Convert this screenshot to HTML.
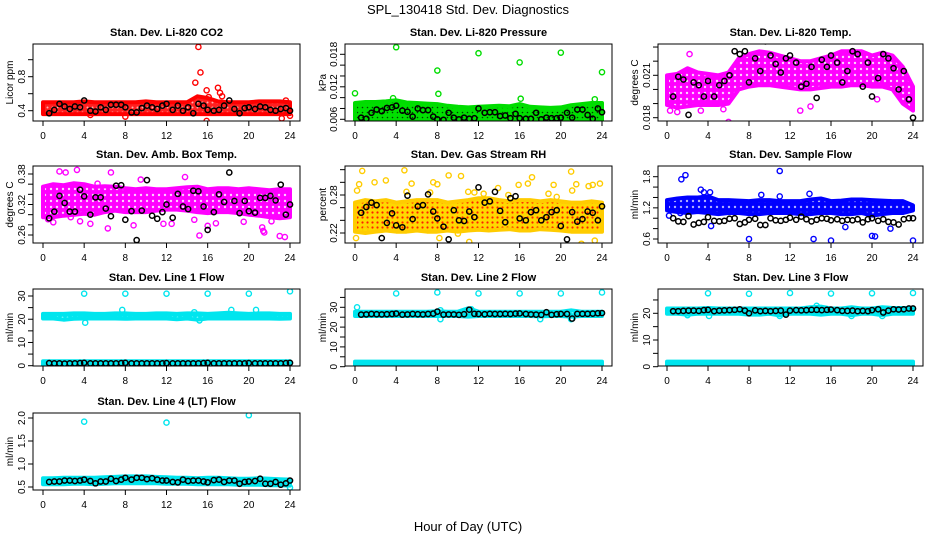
<!DOCTYPE html>
<html><head><meta charset="utf-8"><title>SPL_130418 Std. Dev. Diagnostics</title>
<style>
html,body{margin:0;padding:0;background:#fff;}
svg{display:block;font-family:"Liberation Sans",Arial,sans-serif;}
</style></head>
<body>
<svg id="chart" width="936" height="540" viewBox="0 0 936 540">
<defs>
<pattern id="pat-red" width="5" height="5" patternUnits="userSpaceOnUse"><rect width="5" height="5" fill="#ff2020"/><circle cx="2.5" cy="2.5" r="1" fill="#ffb0b0"/></pattern>
<pattern id="pat-green" width="5" height="5" patternUnits="userSpaceOnUse"><rect width="5" height="5" fill="#00e000"/><circle cx="2.5" cy="2.5" r="0.8" fill="#004000"/></pattern>
<pattern id="pat-mag" width="6" height="6" patternUnits="userSpaceOnUse"><rect width="6" height="6" fill="#ff00ff"/><circle cx="3" cy="3" r="1.2" fill="#ffd0ff"/></pattern>
<pattern id="pat-orange" width="5" height="5" patternUnits="userSpaceOnUse"><rect width="5" height="5" fill="#ffd800"/><circle cx="2.5" cy="2.5" r="1.1" fill="#ff2000"/></pattern>
<pattern id="pat-blue" width="6" height="6" patternUnits="userSpaceOnUse"><rect width="6" height="6" fill="#0000ff"/><circle cx="3" cy="3" r="1.2" fill="#b0b0ff"/></pattern>
<pattern id="pat-cyan" width="5" height="5" patternUnits="userSpaceOnUse"><rect width="5" height="5" fill="#00e5ee"/><circle cx="2.5" cy="2.5" r="0.9" fill="#b0ffff"/></pattern>
</defs>
<text x="468" y="14" text-anchor="middle" font-size="13">SPL_130418  Std. Dev. Diagnostics</text>
<text x="468" y="531" text-anchor="middle" font-size="13">Hour of Day (UTC)</text>
<g id="panels"></g>
</svg>
<script>
// ---------- shared data ----------
const hours = [0,1,2,3,4,5,6,7,8,9,10,11,12,13,14,15,16,17,18,19,20,21,22,23,24];
const blackHours = [0.6,1.1,1.6,2.1,2.6,3.1,3.6,4.0,4.6,5.1,5.6,6.1,6.6,7.1,7.6,8.0,8.6,9.1,9.6,10.1,10.6,11.1,11.6,12.0,12.6,13.1,13.6,14.1,14.6,15.1,15.6,16.0,16.6,17.1,17.6,18.1,18.6,19.1,19.6,20.0,20.6,21.1,21.6,22.1,22.6,23.1,23.6,24.0];
const xTicks = [0,4,8,12,16,20,24];

// ---------- CO2 ----------
const co2Lo = [0.36,0.36,0.36,0.36,0.36,0.36,0.36,0.36,0.36,0.36,0.36,0.36,0.36,0.36,0.36,0.36,0.36,0.36,0.36,0.36,0.36,0.36,0.36,0.36,0.36];
const co2Hi = [0.50,0.50,0.50,0.50,0.51,0.50,0.50,0.50,0.50,0.50,0.51,0.50,0.50,0.50,0.50,0.57,0.55,0.51,0.50,0.50,0.50,0.51,0.51,0.51,0.50];
const co2OutX = [15.1,15.3,14.8,15.9,17.0,17.2,17.4,16.1,15.9,23.2,24.0,8.0,4.6,23.6];
const co2OutY = [1.15,0.85,0.73,0.64,0.67,0.61,0.57,0.56,0.28,0.31,0.34,0.33,0.35,0.52];
const co2Black = [0.37,0.41,0.48,0.45,0.42,0.45,0.44,0.52,0.40,0.39,0.44,0.41,0.47,0.47,0.47,0.44,0.38,0.38,0.43,0.46,0.44,0.42,0.46,0.48,0.41,0.46,0.40,0.44,0.37,0.48,0.46,0.41,0.40,0.41,0.46,0.52,0.42,0.37,0.43,0.44,0.42,0.45,0.44,0.41,0.40,0.42,0.43,0.40];

// ---------- Pressure ----------
const presLo = [0.0058,0.0057,0.0056,0.0057,0.0056,0.0054,0.0053,0.0052,0.0050,0.0051,0.0050,0.0050,0.0051,0.0050,0.0051,0.0050,0.0050,0.0050,0.0050,0.0051,0.0050,0.0052,0.0053,0.0052,0.0055];
const presHi = [0.0090,0.0092,0.0092,0.0093,0.0095,0.0091,0.0090,0.0089,0.0088,0.0085,0.0083,0.0082,0.0083,0.0084,0.0085,0.0084,0.0088,0.0083,0.0082,0.0081,0.0082,0.0086,0.0088,0.0090,0.0090];
const presOutX = [0,4,8,8.1,12,16,20,24,16.1,23.3,3.7,7.7,20.3];
const presOutY = [0.0108,0.0193,0.0150,0.0107,0.0182,0.0165,0.0183,0.0147,0.0098,0.0097,0.0099,0.0052,0.0050];
const presBlack = [0.0063,0.0061,0.0072,0.0078,0.0075,0.0081,0.0082,0.0085,0.0076,0.0074,0.0065,0.0080,0.0077,0.0077,0.0065,0.0060,0.0059,0.0072,0.0063,0.0060,0.0063,0.0061,0.0062,0.0080,0.0072,0.0073,0.0073,0.0066,0.0067,0.0062,0.0070,0.0062,0.0061,0.0061,0.0072,0.0060,0.0063,0.0062,0.0062,0.0063,0.0072,0.0063,0.0078,0.0078,0.0068,0.0061,0.0080,0.0073];

// ---------- Li-820 Temp ----------
const ltLo = [0.0189,0.0187,0.0188,0.0189,0.0189,0.0189,0.0190,0.0200,0.0202,0.0203,0.0203,0.0202,0.0201,0.0200,0.0200,0.0201,0.0202,0.0202,0.0203,0.0203,0.0202,0.0202,0.0200,0.0190,0.0185];
const ltHi = [0.0210,0.0211,0.0215,0.0212,0.0211,0.0210,0.0212,0.0222,0.0225,0.0227,0.0226,0.0224,0.0222,0.0220,0.0220,0.0222,0.0224,0.0227,0.0227,0.0227,0.0224,0.0226,0.0224,0.0216,0.0202];
const ltOutX = [6.0,1.0,0.3,9.7,17.3,19.5,13.0,14.0,5.5,2.2,3.3,20.5];
const ltOutY = [0.0177,0.0184,0.0185,0.0236,0.0235,0.0235,0.0185,0.0188,0.0186,0.0225,0.0185,0.0193];
const ltBlack = [0.0195,0.0209,0.0207,0.0182,0.0205,0.0203,0.0195,0.0206,0.0195,0.0203,0.0206,0.0210,0.0227,0.0225,0.0227,0.0205,0.0222,0.0213,0.0234,0.0224,0.0218,0.0212,0.0222,0.0224,0.0219,0.0202,0.0204,0.0216,0.0194,0.0221,0.0216,0.0224,0.0219,0.0205,0.0213,0.0227,0.0225,0.0202,0.0219,0.0195,0.0208,0.0225,0.0222,0.0215,0.0200,0.0213,0.0193,0.0180];

// ---------- Amb Box Temp ----------
const abLo = [0.295,0.295,0.298,0.300,0.302,0.300,0.305,0.308,0.305,0.305,0.305,0.308,0.310,0.310,0.308,0.305,0.303,0.305,0.305,0.303,0.300,0.298,0.295,0.293,0.295];
const abHi = [0.355,0.360,0.358,0.362,0.360,0.355,0.356,0.355,0.352,0.350,0.352,0.350,0.350,0.352,0.354,0.355,0.350,0.352,0.352,0.350,0.352,0.350,0.348,0.350,0.350];
const abOutX = [1.6,2.2,3.3,6.6,5.3,4.6,6.3,0.5,1.0,11.7,12.5,13.8,16.8,19.5,21.3,21.4,21.5,23.0,23.5,8.8,9.5,15.2,16.0,14.7,22.2,3.6,2.7];
const abOutY = [0.385,0.383,0.388,0.383,0.361,0.282,0.273,0.291,0.285,0.282,0.282,0.374,0.283,0.286,0.275,0.268,0.265,0.258,0.256,0.279,0.369,0.259,0.278,0.290,0.287,0.287,0.295];
const abBlack = [0.293,0.306,0.337,0.323,0.306,0.306,0.349,0.336,0.300,0.334,0.334,0.312,0.297,0.357,0.358,0.290,0.307,0.250,0.308,0.368,0.298,0.292,0.305,0.320,0.294,0.341,0.316,0.311,0.347,0.346,0.316,0.270,0.305,0.340,0.325,0.383,0.327,0.303,0.327,0.307,0.304,0.333,0.333,0.337,0.328,0.359,0.300,0.320];

// ---------- Gas Stream RH ----------
const rhLo = [0.222,0.220,0.222,0.224,0.222,0.222,0.224,0.222,0.222,0.224,0.222,0.224,0.225,0.224,0.225,0.226,0.224,0.224,0.226,0.225,0.224,0.222,0.222,0.222,0.222];
const rhHi = [0.268,0.272,0.270,0.272,0.268,0.270,0.272,0.272,0.272,0.268,0.270,0.272,0.275,0.275,0.272,0.270,0.272,0.272,0.270,0.272,0.270,0.268,0.268,0.270,0.268];
const rhOutX = [0.2,0.4,0.7,1.9,3.0,4.8,5.0,5.5,7.3,7.6,8.0,9.1,10.3,11.0,11.6,12.5,13.9,14.9,15.9,16.8,17.2,18.8,19.3,19.6,21.0,21.1,21.5,22.7,23.1,23.3,23.8,0.1,1.0,11.1,22.0,8.2,10.0];
const rhOutY = [0.287,0.297,0.318,0.300,0.303,0.319,0.285,0.298,0.284,0.300,0.297,0.311,0.310,0.285,0.284,0.282,0.291,0.280,0.296,0.298,0.308,0.282,0.296,0.277,0.317,0.287,0.297,0.294,0.296,0.208,0.298,0.212,0.225,0.206,0.203,0.212,0.219];
const rhBlack = [0.252,0.261,0.268,0.264,0.212,0.236,0.251,0.232,0.229,0.279,0.242,0.262,0.264,0.281,0.254,0.243,0.230,0.210,0.256,0.240,0.239,0.254,0.245,0.292,0.268,0.270,0.285,0.255,0.237,0.275,0.278,0.243,0.240,0.253,0.256,0.240,0.245,0.253,0.256,0.231,0.210,0.253,0.238,0.242,0.254,0.252,0.240,0.262];

// ---------- Sample Flow ----------
const sfLo = [1.15,1.12,1.10,1.12,1.10,1.08,1.10,1.10,1.08,1.08,1.10,1.10,1.10,1.08,1.08,1.10,1.10,1.08,1.08,1.10,1.05,1.08,1.10,1.10,1.15];
const sfHi = [1.35,1.38,1.40,1.40,1.42,1.35,1.35,1.34,1.33,1.35,1.35,1.33,1.33,1.33,1.36,1.38,1.33,1.34,1.36,1.36,1.35,1.34,1.33,1.33,1.25];
const sfOutX = [1.4,1.8,11.0,8.0,14.3,16.0,20.0,20.3,24.0,4.2,3.3,3.6,11.0,13.9,4.3,17.4,21.8,0.2,1.3,9.2];
const sfOutY = [1.75,1.83,1.91,0.60,0.60,0.57,0.66,0.65,0.57,1.50,1.55,1.50,1.42,1.47,0.85,0.83,0.80,1.05,1.10,1.45];
const sfBlack = [1.00,0.94,0.93,1.04,0.88,0.91,0.93,1.02,0.95,0.94,0.95,0.99,1.00,0.89,0.92,0.97,0.99,0.87,0.87,1.00,0.96,0.95,0.97,1.01,0.97,1.03,0.98,0.94,0.97,1.00,0.99,0.96,0.98,0.95,0.97,0.96,0.98,0.92,0.98,1.00,0.95,0.98,0.93,0.92,0.88,0.98,1.00,1.00];

// ---------- Line 1 Flow ----------
const l1Lo = [20.3,20.3,19.8,20.2,20.3,20.3,20.3,20.3,20.2,20.3,20.3,20.3,20.3,20.0,20.3,19.8,20.3,20.3,20.3,20.3,20.3,20.3,20.3,20.2,20.3];
const l1Hi = [22.3,22.3,22.3,22.5,22.5,22.3,22.3,22.5,22.5,22.3,22.3,22.5,22.5,22.3,22.5,22.5,22.3,22.5,22.8,22.5,22.3,22.5,22.5,22.3,22.3];
const l1Lo2 = [0.2,0.2,0.2,0.2,0.2,0.2,0.2,0.2,0.2,0.2,0.2,0.2,0.2,0.2,0.2,0.2,0.2,0.2,0.2,0.2,0.2,0.2,0.2,0.2,0.2];
const l1Hi2 = [1.9,1.9,1.9,1.9,1.9,1.9,1.9,1.9,1.9,1.9,1.9,1.9,1.9,1.9,1.9,1.9,1.9,1.9,1.9,1.9,1.9,1.9,1.9,1.9,1.9];
const l1OutX = [4,8,12,16,20,24,4.1,7.7,18.3,20.7,14.7,15.2];
const l1OutY = [31,31,31,31,31,32,18.5,24,24,24,23,19.5];
const l1Black = [1.1,1.0,1.0,0.9,1.0,1.0,1.1,1.2,1.0,1.0,1.0,1.0,1.0,1.0,1.1,1.2,1.0,1.0,1.0,1.0,1.0,1.0,1.0,1.1,1.0,1.0,1.0,1.0,1.0,1.0,1.1,1.2,1.0,1.0,1.0,1.0,1.0,1.0,1.0,1.1,1.0,1.0,1.0,1.0,1.0,1.0,1.1,1.2];

// ---------- Line 2 Flow ----------
const l2Lo = [25.6,25.6,25.6,25.6,25.6,25.6,25.6,25.6,25.6,25.6,25.6,25.3,25.6,25.6,25.6,25.6,25.6,25.6,25.4,25.6,25.6,25.3,25.6,25.6,25.6];
const l2Hi = [27.8,27.8,27.8,27.8,27.8,27.8,27.8,27.8,28.0,27.8,27.8,29.5,27.8,27.8,27.8,27.8,27.8,27.8,27.8,27.8,27.8,28.5,27.8,27.8,27.8];
const l2Lo2 = [0.4,0.4,0.4,0.4,0.4,0.4,0.4,0.4,0.4,0.4,0.4,0.4,0.4,0.4,0.4,0.4,0.4,0.4,0.4,0.4,0.4,0.4,0.4,0.4,0.4];
const l2Hi2 = [2.6,2.6,2.6,2.6,2.6,2.6,2.6,2.6,2.6,2.6,2.6,2.6,2.6,2.6,2.6,2.6,2.6,2.6,2.6,2.6,2.6,2.6,2.6,2.6,2.6];
const l2OutX = [4,8,12,16,20,24,0.2,8.3,18,21,11.3,8.3];
const l2OutY = [37,37.5,37,37,37,37.5,30,24,24,24,29,28.5];
const l2Black = [26.3,26.4,26.6,26.5,26.4,26.5,26.6,26.8,26.3,26.4,26.6,26.5,26.4,26.6,26.8,27.8,26.3,26.4,26.4,26.2,26.5,28.8,26.7,26.6,26.5,26.7,26.6,26.6,26.7,26.6,26.8,26.9,26.6,26.4,26.3,26.2,27.5,26.2,26.5,26.6,26.6,24.3,26.7,26.7,26.7,26.8,27.0,27.1];

// ---------- Line 3 Flow ----------
const l3Lo = [19.8,19.8,19.5,19.8,19.8,19.8,19.8,19.8,19.5,19.5,19.8,19.2,19.8,19.8,19.8,19.5,19.8,19.8,19.3,19.8,19.8,19.3,19.8,19.8,19.8];
const l3Hi = [21.8,21.8,21.8,21.8,22.0,21.8,21.8,21.8,21.8,21.8,21.8,21.8,21.8,21.8,22.3,22.5,21.8,21.8,22.3,21.8,21.8,22.3,22.0,22.0,22.0];
const l3Lo2 = [0.4,0.4,0.4,0.4,0.4,0.4,0.4,0.4,0.4,0.4,0.4,0.4,0.4,0.4,0.4,0.4,0.4,0.4,0.4,0.4,0.4,0.4,0.4,0.4,0.4];
const l3Hi2 = [1.9,1.9,1.9,1.9,1.9,1.9,1.9,1.9,1.9,1.9,1.9,1.9,1.9,1.9,1.9,1.9,1.9,1.9,1.9,1.9,1.9,1.9,1.9,1.9,1.9];
const l3OutX = [4,8,12,16,20,24,4.1,11,18,21,14.6,2];
const l3OutY = [27.5,27.3,27.6,27.4,27.5,27.6,19,19,19,19,22.8,19.3];
const l3Black = [20.8,20.8,20.9,21.0,21.0,20.9,21.2,21.3,20.8,21.0,21.1,21.2,21.3,21.5,21.0,20.0,21.1,20.8,20.9,20.8,20.9,21.0,19.5,21.0,21.2,21.1,21.2,21.3,21.3,21.2,21.3,21.4,21.2,20.9,20.9,21.0,20.8,20.9,20.8,21.2,21.5,20.3,21.0,21.5,21.4,21.5,21.8,21.8];

// ---------- Line 4 Flow ----------
const l4Lo = [0.56,0.56,0.56,0.57,0.57,0.56,0.57,0.58,0.58,0.58,0.58,0.58,0.57,0.57,0.57,0.56,0.56,0.56,0.56,0.55,0.55,0.55,0.54,0.54,0.53];
const l4Hi = [0.69,0.69,0.70,0.70,0.70,0.70,0.71,0.72,0.73,0.73,0.73,0.72,0.71,0.70,0.70,0.69,0.70,0.70,0.69,0.68,0.68,0.69,0.68,0.67,0.66];
const l4OutX = [4,12,20,24];
const l4OutY = [1.92,1.90,2.06,0.49];
const l4Black = [0.61,0.62,0.62,0.64,0.64,0.63,0.64,0.66,0.63,0.58,0.62,0.62,0.68,0.63,0.66,0.70,0.66,0.70,0.70,0.67,0.69,0.66,0.64,0.64,0.61,0.60,0.66,0.63,0.64,0.64,0.62,0.60,0.65,0.66,0.61,0.64,0.64,0.57,0.61,0.62,0.63,0.68,0.57,0.57,0.61,0.55,0.58,0.64];

// ---------- layout (not data) ----------
const COLS = [{l:33,r:300,x0:43,x24:290,lab:9},{l:345,r:612,x0:355,x24:602,lab:322},{l:658,r:923,x0:667,x24:913,lab:634}];
const ROWS = [44,166,289,413];
const PH = 77;

const panels = [
 {name:'co2',title:'Stan. Dev. Li-820 CO2',ylab:'Licor ppm',c:0,r:0,ref:[0.4,110.7,0.8,76.7],ticks:[0.4,0.6,0.8,1.0],labs:['0.4','','0.8',''],col:'#ff0000',pat:'pat-red',bands:[[co2Lo,co2Hi]],ox:co2OutX,oy:co2OutY,bk:co2Black},
 {name:'pressure',title:'Stan. Dev. Li-820 Pressure',ylab:'kPa',c:1,r:0,ref:[0.006,119.3,0.018,54.3],ticks:[0.006,0.008,0.010,0.012,0.014,0.016,0.018],labs:['0.006','','','0.012','','','0.018'],col:'#00dd00',pat:'pat-green',bands:[[presLo,presHi]],ox:presOutX,oy:presOutY,bk:presBlack},
 {name:'li820-temp',title:'Stan. Dev. Li-820 Temp.',ylab:'degrees C',c:2,r:0,ref:[0.018,117.7,0.021,75.3],ticks:[0.018,0.019,0.020,0.021,0.022,0.023],labs:['0.018','','','0.021','',''],col:'#ff00ff',pat:'pat-mag',bands:[[ltLo,ltHi]],ox:ltOutX,oy:ltOutY,bk:ltBlack},
 {name:'amb-box-temp',title:'Stan. Dev. Amb. Box Temp.',ylab:'degrees C',c:0,r:1,ref:[0.26,235,0.38,174],ticks:[0.26,0.28,0.30,0.32,0.34,0.36,0.38],labs:['0.26','','','0.32','','','0.38'],col:'#ff00ff',pat:'pat-mag',bands:[[abLo,abHi]],ox:abOutX,oy:abOutY,bk:abBlack},
 {name:'gas-stream-rh',title:'Stan. Dev. Gas Stream RH',ylab:'percent',c:1,r:1,ref:[0.22,233,0.28,195],ticks:[0.22,0.24,0.26,0.28,0.30,0.32],labs:['0.22','','','0.28','',''],col:'#ffcc00',pat:'pat-orange',bands:[[rhLo,rhHi]],ox:rhOutX,oy:rhOutY,bk:rhBlack},
 {name:'sample-flow',title:'Stan. Dev. Sample Flow',ylab:'ml/min',c:2,r:1,ref:[0.6,239,1.8,176.7],ticks:[0.6,0.8,1.0,1.2,1.4,1.6,1.8],labs:['0.6','','','1.2','','','1.8'],col:'#0000ff',pat:'pat-blue',bands:[[sfLo,sfHi]],ox:sfOutX,oy:sfOutY,bk:sfBlack},
 {name:'line1-flow',title:'Stan. Dev. Line 1 Flow',ylab:'ml/min',c:0,r:2,ref:[0,365.7,30,296],ticks:[0,5,10,15,20,25,30],labs:['0','','10','','20','','30'],col:'#00e5ee',pat:'pat-cyan',bands:[[l1Lo,l1Hi],[l1Lo2,l1Hi2]],ox:l1OutX,oy:l1OutY,bk:l1Black},
 {name:'line2-flow',title:'Stan. Dev. Line 2 Flow',ylab:'ml/min',c:1,r:2,ref:[0,366.7,30,307.3],ticks:[0,5,10,15,20,25,30,35],labs:['0','','10','','20','','30',''],col:'#00e5ee',pat:'pat-cyan',bands:[[l2Lo,l2Hi],[l2Lo2,l2Hi2]],ox:l2OutX,oy:l2OutY,bk:l2Black},
 {name:'line3-flow',title:'Stan. Dev. Line 3 Flow',ylab:'ml/min',c:2,r:2,ref:[0,366.7,20,313.3],ticks:[0,5,10,15,20,25],labs:['0','','10','','20',''],col:'#00e5ee',pat:'pat-cyan',bands:[[l3Lo,l3Hi],[l3Lo2,l3Hi2]],ox:l3OutX,oy:l3OutY,bk:l3Black},
 {name:'line4-flow',title:'Stan. Dev. Line 4 (LT) Flow',ylab:'ml/min',c:0,r:3,ref:[0.5,487,2.0,418],ticks:[0.5,1.0,1.5,2.0],labs:['0.5','1.0','1.5','2.0'],col:'#00e5ee',pat:'pat-cyan',bands:[[l4Lo,l4Hi]],ox:l4OutX,oy:l4OutY,bk:l4Black}
];

const NS = 'http://www.w3.org/2000/svg';
const root = document.getElementById('panels');
function mk(tag, attrs, parent){
  const e = document.createElementNS(NS, tag);
  for (const k in attrs) e.setAttribute(k, attrs[k]);
  parent.appendChild(e);
  return e;
}

panels.forEach(p => {
  const C = COLS[p.c], top = ROWS[p.r], bot = top + PH;
  const xs = h => C.x0 + (C.x24 - C.x0) * h / 24;
  const [v1,p1,v2,p2] = p.ref;
  const ys = v => p1 + (v - v1) * (p2 - p1) / (v2 - v1);

  const g = mk('g', {}, root);
  
  

  const clipId = 'clip-' + p.name;
  const cp = mk('clipPath', {id: clipId}, g);
  mk('rect', {x: C.l, y: top, width: C.r - C.l, height: PH}, cp);

  const t = mk('text', {x: (C.l + C.r) / 2, y: top - 8, 'text-anchor': 'middle', 'font-size': 11, 'font-weight': 'bold'}, g);
  t.textContent = p.title;
  
  

  const yl = mk('text', {x: 0, y: 0, 'text-anchor': 'middle', 'font-size': 10, transform: `translate(${C.lab + 4},${(top + bot) / 2}) rotate(-90)`}, g);
  yl.textContent = p.ylab;
  
  

  const plot = mk('g', {'clip-path': `url(#${clipId})`}, g);
  
  

  p.bands.forEach((b, bi) => {
    const lo = b[0], hi = b[1];
    let d = '';
    hours.forEach((h, i) => { d += (i ? 'L' : 'M') + xs(h).toFixed(1) + ',' + ys(hi[i]).toFixed(1); });
    for (let i = hours.length - 1; i >= 0; i--) d += 'L' + xs(hours[i]).toFixed(1) + ',' + ys(lo[i]).toFixed(1);
    const band = mk('path', {d: d + 'Z', fill: `url(#${p.pat})`, stroke: p.col, 'stroke-width': 4, 'stroke-linejoin': 'round'}, plot);
    
    
  });

  p.ox.forEach((h, i) => {
    const c = mk('circle', {cx: xs(h), cy: ys(p.oy[i]), r: 2.6, fill: 'none', stroke: p.col, 'stroke-width': 1.4}, plot);
    
    
  });

  blackHours.forEach((h, i) => {
    const c = mk('circle', {cx: xs(h), cy: ys(p.bk[i]), r: 2.6, fill: 'none', stroke: '#000', 'stroke-width': 1.5}, plot);
    
    
  });

  const box = mk('rect', {x: C.l, y: top, width: C.r - C.l, height: PH, fill: 'none', stroke: '#000', 'stroke-width': 1}, g);
  
  

  const xa = mk('g', {}, g);
  
  
  mk('line', {x1: xs(0), x2: xs(24), y1: bot, y2: bot, stroke: '#000'}, xa);
  xTicks.forEach(h => {
    mk('line', {x1: xs(h), x2: xs(h), y1: bot, y2: bot + 5, stroke: '#000'}, xa);
    const tl = mk('text', {x: xs(h), y: bot + 18, 'text-anchor': 'middle', 'font-size': 10}, xa);
    tl.textContent = h;
    
    
  });

  const ya = mk('g', {}, g);
  
  
  mk('line', {x1: C.l, x2: C.l, y1: ys(p.ticks[0]), y2: ys(p.ticks[p.ticks.length - 1]), stroke: '#000'}, ya);
  p.ticks.forEach((v, i) => {
    const y = ys(v);
    mk('line', {x1: C.l - 5, x2: C.l, y1: y, y2: y, stroke: '#000'}, ya);
    if (p.labs[i]) {
      const tl = mk('text', {x: 0, y: 0, 'text-anchor': 'middle', 'font-size': 10, transform: `translate(${C.l - 8},${y}) rotate(-90)`}, ya);
      tl.textContent = p.labs[i];
      
      
    }
  });
});
</script>
</body></html>
